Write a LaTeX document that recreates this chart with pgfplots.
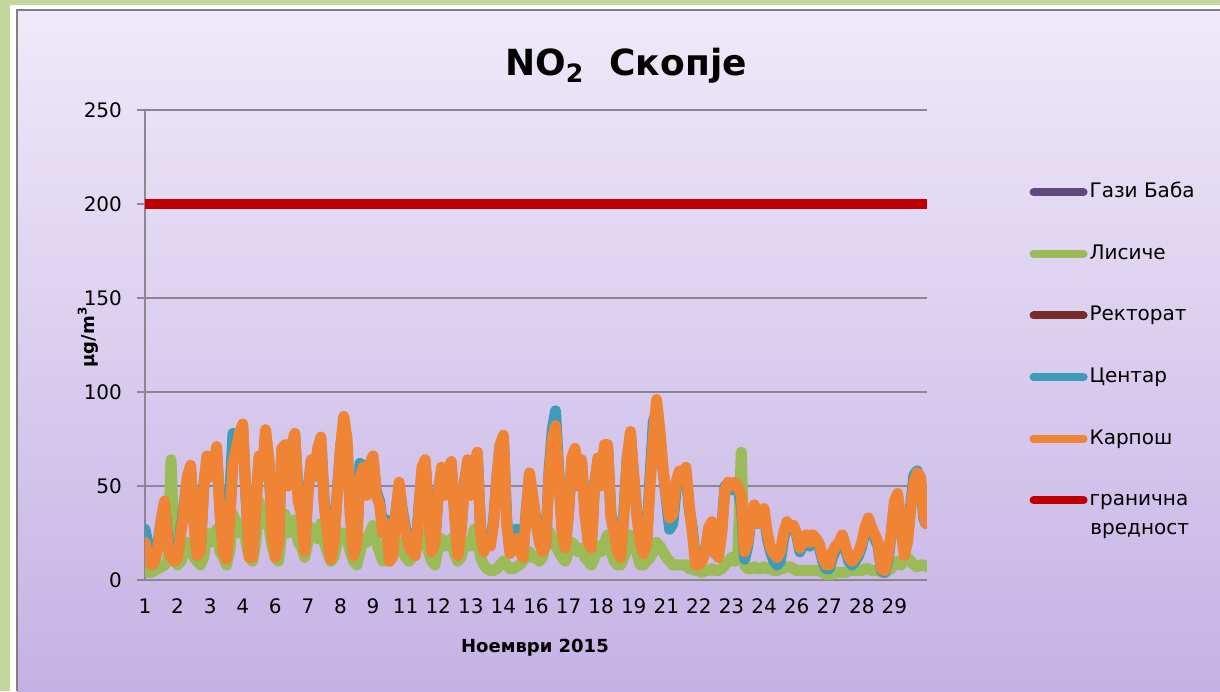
\documentclass[border=0pt]{standalone}
\usepackage{pgfplots}
\pgfplotsset{compat=1.18}
\usepackage{pgfplotstable}
\usepackage{fontspec}
\setmainfont{DejaVu Sans}

\definecolor{framegreen}{HTML}{C3D69B}
\definecolor{bgtop}{HTML}{EFE9F9}
\definecolor{bgbot}{HTML}{C5B2E4}
\definecolor{gridgray}{HTML}{8A8692}
\definecolor{cgazi}{HTML}{604A7B}
\definecolor{clis}{HTML}{9BBB59}
\definecolor{crek}{HTML}{772C2A}
\definecolor{ccen}{HTML}{3F9BBA}
\definecolor{ckar}{HTML}{EE8434}
\definecolor{clim}{HTML}{C00000}

% hourly NO2, sampled every 3 h: hour, Lisice, Centar, Karpos
\pgfplotstableread{
h L C K
0 5 27 20
3 4 18 12
6 4 10 8
9 5 13 10
12 6 20 18
15 7 32 32
18 8 40 42
21 10 22 18
24 64 14 12
27 12 12 10
30 8 14 12
33 10 27 25
36 15 40 38
39 20 54 55
42 18 58 61
45 12 32 30
48 10 15 13
51 8 17 15
54 12 50 48
57 25 64 66
60 20 55 55
63 22 58 60
66 27 68 71
69 15 38 35
72 12 17 15
75 8 13 11
78 15 45 30
81 35 78 62
84 30 72 70
87 25 76 78
90 30 80 83
93 20 44 45
96 12 14 12
99 10 14 12
102 20 40 38
105 42 64 66
108 30 56 55
111 35 78 80
114 28 63 65
117 18 28 25
120 12 14 12
123 10 22 20
126 25 70 70
129 35 70 72
132 25 52 50
135 30 70 72
138 32 76 78
141 20 46 42
144 18 38 35
147 12 18 15
150 20 47 45
153 28 63 64
156 25 55 55
159 22 68 70
162 30 73 76
165 20 42 40
168 15 27 25
171 10 13 11
174 12 22 20
177 20 47 45
180 25 70 70
183 25 85 87
186 22 72 75
189 15 36 35
192 10 15 13
195 8 22 20
198 15 62 55
201 22 60 60
204 20 47 45
207 25 60 62
210 29 64 66
213 20 47 45
216 15 42 40
219 10 28 25
222 12 32 30
225 10 14 10
228 15 17 12
231 18 36 35
234 20 50 52
237 15 37 35
240 12 27 25
243 10 20 18
246 12 17 15
249 15 15 13
252 20 37 35
255 26 58 60
258 22 62 64
261 15 37 35
264 10 17 15
267 8 22 20
270 18 47 45
273 22 58 60
276 18 47 45
279 20 60 58
282 22 61 63
285 14 36 35
288 10 15 13
291 12 27 25
294 18 52 50
297 20 62 64
300 18 47 45
303 27 62 60
306 22 66 68
309 12 27 25
312 8 17 15
315 6 22 20
318 5 20 18
321 5 32 30
324 6 55 55
327 8 72 72
330 10 75 77
333 8 32 30
336 6 16 14
339 6 25 20
342 7 27 22
345 8 18 15
348 10 14 12
351 12 37 35
354 15 55 57
357 12 44 45
360 12 32 30
363 10 22 20
366 12 17 15
369 20 20 18
372 26 58 55
375 22 80 75
378 18 90 82
381 15 57 55
384 12 27 25
387 10 19 17
390 15 37 35
393 20 63 65
396 18 68 70
399 15 50 50
402 17 62 64
405 12 37 35
408 10 22 20
411 8 19 17
414 12 52 50
417 18 63 65
420 15 52 50
423 20 70 72
426 24 70 72
429 15 35 33
432 10 27 25
435 8 17 15
438 8 14 12
441 12 37 35
444 18 65 65
447 24 77 79
450 20 55 55
453 14 35 33
456 8 22 20
459 8 16 14
462 10 22 20
465 12 55 50
468 15 84 75
471 20 90 96
474 18 78 80
477 15 58 59
480 12 43 45
483 10 27 33
486 8 30 35
489 8 48 52
492 8 56 58
495 8 54 55
498 8 58 60
501 6 38 40
504 6 27 25
507 5 10 8
510 5 10 8
513 4 12 10
516 5 16 15
519 5 27 28
522 6 30 31
525 5 14 15
528 5 14 12
531 6 27 25
534 8 50 48
537 10 50 52
540 12 48 50
543 10 50 52
546 15 48 50
549 68 40 45
552 8 11 15
555 6 18 20
558 6 33 35
561 7 38 40
564 6 30 30
567 6 34 35
570 7 36 38
573 6 22 25
576 6 15 17
579 5 10 14
582 5 8 12
585 6 10 15
588 6 22 25
591 7 29 31
594 7 27 28
597 6 28 29
600 5 24 25
603 5 15 17
606 5 20 22
609 5 22 24
612 5 18 20
615 5 22 24
618 5 20 22
621 5 17 19
624 4 10 12
627 3 6 8
630 3 6 8
633 3 12 15
636 4 16 18
639 4 18 20
642 4 22 24
645 4 16 18
648 5 10 12
651 5 8 10
654 5 10 12
657 5 13 15
660 5 18 20
663 6 26 28
666 6 31 33
669 5 26 28
672 5 22 24
675 5 18 20
678 4 5 6
681 4 4 5
684 5 10 12
687 6 24 25
690 8 40 42
693 10 44 46
696 8 28 30
699 10 15 13
702 12 22 20
705 10 40 38
708 8 56 52
711 7 58 57
714 8 52 55
717 8 33 35
719 7 30 30
}\noxdata

\begin{document}
\begin{tikzpicture}
\useasboundingbox (0,0) rectangle (610pt,345.5pt);
% frame and background
\fill[framegreen] (0,0) rectangle (610pt,345.5pt);
\fill[white] (5pt,0) rectangle (610pt,343pt);
\shade[top color=bgtop, bottom color=bgbot] (8.5pt,0) rectangle (610pt,340.5pt);
\draw[gray, line width=0.6pt] (8.5pt,0) -- (8.5pt,340.5pt) -- (610pt,340.5pt);

\begin{axis}[
  scale only axis, width=391pt, height=235pt,
  at={(72.5pt,55.5pt)}, anchor=south west,
  xmin=0, xmax=720, ymin=0, ymax=250,
  xtick={0,30,...,690},
  xticklabels={1,2,3,4,6,7,8,9,11,12,13,14,16,17,18,19,21,22,23,24,26,27,28,29},
  ytick={0,50,...,250},
  ymajorgrids, grid style={gridgray, line width=0.6pt},
  axis x line*=bottom, axis y line*=left,
  axis line style={gridgray, line width=0.6pt, -},
  x tick style={draw=none}, y tick style={gridgray, line width=0.6pt},
  tick align=outside, major tick length=4pt,
  /pgf/number format/assume math mode=true,
  tick label style={font=\fontsize{10}{12}\selectfont},
  yticklabel style={xshift=-4pt},
  xticklabel style={yshift=-2pt},
  xlabel={Ноември 2015},
  ylabel={µg/m\textsuperscript{3}},
  xlabel style={font=\bfseries\fontsize{9}{11}\selectfont, at={(axis description cs:0.4987,-0.1447)}, anchor=center},
  ylabel style={font=\bfseries\fontsize{9}{11}\selectfont, at={(axis description cs:-0.0729,0.517)}, anchor=center},
  every axis plot/.append style={line join=round, line cap=round},
  legend image code/.code={\draw[#1, line width=4pt, line cap=round] (0pt,0pt) -- (25pt,0pt);},
  legend style={at={(axis description cs:1.123,0.861)}, anchor=north west,
    draw=none, fill=none, font=\fontsize{10}{12}\selectfont, row sep=18.3pt,
    nodes={inner sep=1pt, text height=8pt, text depth=2.5pt}},
  legend cell align=left,
]
\addlegendimage{cgazi}
\addlegendentry{Гази Баба}
\addplot[clis, line width=5.5pt] table[x=h, y=L] {\noxdata};
\addlegendentry{Лисиче}
\addlegendimage{crek}
\addlegendentry{Ректорат}
\addplot[ccen, line width=5.5pt] table[x=h, y=C] {\noxdata};
\addlegendentry{Центар}
\addplot[ckar, line width=5.5pt] table[x=h, y=K] {\noxdata};
\addlegendentry{Карпош}
\addplot[clim, line width=5pt, line cap=butt] coordinates {(0,200) (720,200)};
\addlegendentry{гранична}
\end{axis}

\node[font=\bfseries\fontsize{18}{20}\selectfont] at (313pt,312.5pt) {NO\textsubscript{2}\ \ Скопје};
\node[font=\fontsize{10}{12}\selectfont, anchor=west, inner sep=1pt] at (544pt,80pt) {вредност};
\end{tikzpicture}
\end{document}
